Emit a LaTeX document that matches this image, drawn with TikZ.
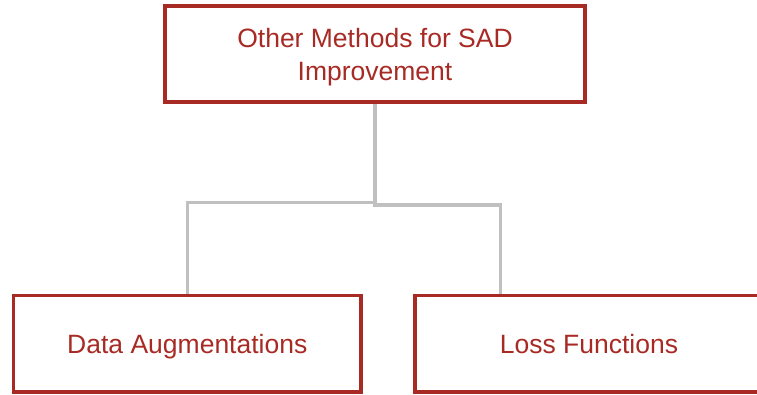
\documentclass[tikz,border=0pt]{standalone}
\usepackage{fontspec}
\setmainfont{Liberation Sans}
\usetikzlibrary{backgrounds}
\definecolor{boxred}{RGB}{168,42,36}
\definecolor{linkgray}{RGB}{192,192,192}
\begin{document}
\begin{tikzpicture}[x=1pt,y=-1pt,
  box/.style={draw=boxred, line width=3.5pt, text=boxred, align=center,
    inner sep=0pt, font=\fontsize{26.5}{33.3}\selectfont},
  oneline/.style={box, text height=20pt, text depth=0pt},
  link/.style={draw=linkgray, line width=3.2pt}]
\useasboundingbox (0,0) rectangle (757,395);

% boxes
\node[box, minimum width=420pt, minimum height=96pt] (root) at (375,54)
  {\rule{0pt}{26pt}Other Methods for SAD\\Improvement};
\node[oneline, minimum width=347.5pt, minimum height=96.5pt] (aug) at (187.3,343.8)
  {Data Augmentations};
\node[oneline, minimum width=348pt, minimum height=96.5pt] (loss) at (589,343.8)
  {Loss Functions};

% the right-hand link enters the child left of its centre
\coordinate (lossin) at ([xshift=87pt]loss.north west);

% elbow connectors, kept behind the boxes
\begin{scope}[on background layer]
\draw[link] (root.south) -- ++(0,99) -| (aug.north);
\draw[link] (root.south) -- ++(0,101.3) -| (lossin);
\end{scope}
\end{tikzpicture}
\end{document}
